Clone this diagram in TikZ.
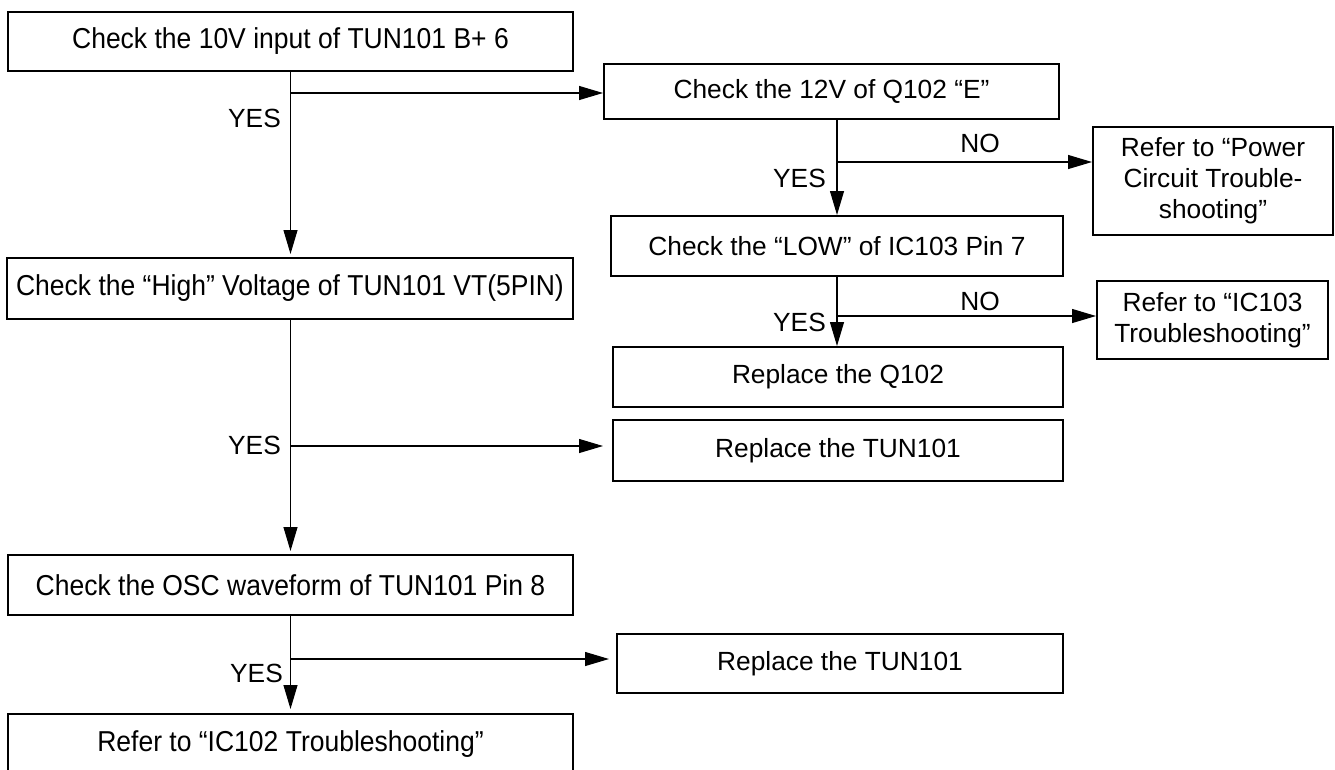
\documentclass[tikz,border=0pt]{standalone}
\usepackage{fontspec}
\setmainfont{Liberation Sans}
\newfontfamily\narrowfont[FakeStretch=0.92]{Liberation Sans}
\usetikzlibrary{arrows.meta}
\begin{document}
\begin{tikzpicture}[x=1pt,y=-1pt,
  box/.style={draw, line width=2pt, inner sep=0pt, align=center, font=\fontsize{26.3}{31}\selectfont},
  lbox/.style={box, font=\narrowfont\fontsize{28.8}{33}\selectfont},
  conn/.style={line width=1.1pt},
  arr/.style={conn, -{Triangle[length=24pt,width=14pt]}},
  lbl/.style={inner sep=0pt, font=\fontsize{26.3}{31}\selectfont}]
\useasboundingbox (0,0) rectangle (1335,769);
\clip (0,0) rectangle (1335,769);
% boxes
\node[lbox, minimum width=565pt, minimum height=59pt] (b1) at (290.5,41.5) {Check the 10V input of TUN101 B+ 6};
\node[box, minimum width=455pt, minimum height=55pt] (b2) at (831.5,91.5) {Check the 12V of Q102 “E”};
\node[box, minimum width=240pt, minimum height=108pt] (b3) at (1213,181) {Refer to “Power\\Circuit Trouble-\\shooting”};
\node[box, minimum width=452pt, minimum height=60pt] (b4) at (837,246) {Check the “LOW” of IC103 Pin 7};
\node[lbox, minimum width=566pt, minimum height=61pt] (b5) at (290,288.5) {Check the “High” Voltage of TUN101 VT(5PIN)};
\node[box, minimum width=231pt, minimum height=78pt] (b6) at (1212.5,320) {Refer to “IC103\\Troubleshooting”};
\node[box, minimum width=450pt, minimum height=60pt] (b7) at (838,377) {Replace the Q102};
\node[box, minimum width=450pt, minimum height=61pt] (b8) at (838,450.5) {Replace the TUN101};
\node[lbox, minimum width=565pt, minimum height=60pt] (b9) at (290.5,585) {Check the OSC waveform of TUN101 Pin 8};
\node[box, minimum width=446pt, minimum height=59pt] (b10) at (840,663.5) {Replace the TUN101};
\node[lbox, minimum width=565pt, minimum height=60pt] (b11) at (290.5,744) {Refer to “IC102 Troubleshooting”};
% junctions
\coordinate (j1) at (290.5,93);
\coordinate (j2) at (837,162);
\coordinate (j3) at (837,316);
\coordinate (j4) at (290.5,446);
\coordinate (j5) at (290.5,659);
% vertical connectors
\draw[arr, shorten >=3pt] (b1.south) -- (b1.south |- b5.north);
\draw[arr] (b4.north |- b2.south) -- (b4.north);
\draw[arr] (b4.south) -- (b4.south |- b7.north);
\draw[arr, shorten >=3pt] (b5.south -| b1.south) -- (b1.south |- b9.north);
\draw[arr, shorten >=4pt] (b9.south) -- (b9.south |- b11.north);
% horizontal branches
\draw[arr] (j1) -- (j1 -| b2.west);
\draw[arr] (j2) -- (j2 -| b3.west);
\draw[arr] (j3) -- (j3 -| b6.west);
\draw[arr, shorten >=9pt] (j4) -- (j4 -| b8.west);
\draw[arr, shorten >=7pt] (j5) -- (j5 -| b10.west);
% labels
\node[lbl, anchor=east] (y1) at (281,118) {YES};
\node[lbl] (n1) at (980,143) {NO};
\node[lbl, anchor=east] (y2) at (826,178) {YES};
\node[lbl] (n2) at (980,301) {NO};
\node[lbl, anchor=east] (y3) at (826,322) {YES};
\node[lbl, anchor=east] (y4) at (281,445) {YES};
\node[lbl, anchor=east] (y5) at (283,673) {YES};
\end{tikzpicture}
\end{document}
